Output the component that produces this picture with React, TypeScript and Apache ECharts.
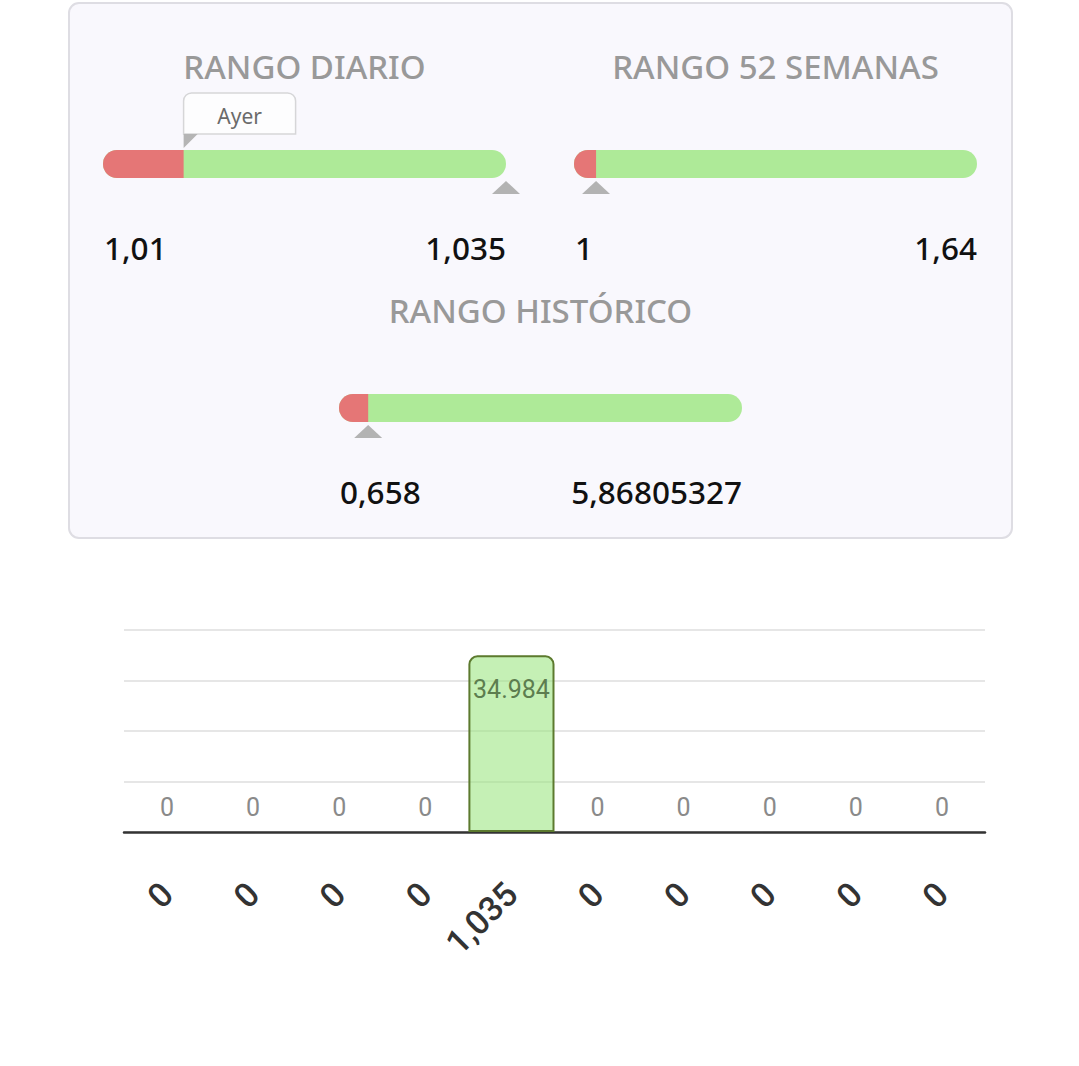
import React, { useEffect, useRef } from "react";
import * as echarts from "echarts";

// ---- data ----
const rangeTitles = ["RANGO DIARIO", "RANGO 52 SEMANAS", "RANGO HISTÓRICO"];
const rangeLow = [1.01, 1, 0.658];
const rangeHigh = [1.035, 1.64, 5.86805327];
const rangeSplit = [1.015, 1.035, 1.035]; // end of the red segment
const rangeMarker = [1.035, 1.035, 1.035]; // triangle marker
const calloutLabels = ["Ayer", "", ""];
const calloutValues = [1.015, null, null];

const histCategories = ["0", "0", "0", "0", "1,035", "0", "0", "0", "0", "0"];
const histValues = [0, 0, 0, 0, 34984, 0, 0, 0, 0, 0];

const fmtDec = (v: number) => String(v).replace(".", ",");
const fmtThousands = (v: number) =>
  String(v).replace(/\B(?=(\d{3})+(?!\d))/g, ".");

const CARD_FONT = "'Noto Sans', 'Open Sans', sans-serif";
const CHART_FONT = "Roboto, 'Noto Sans', sans-serif";

const rangeGrids = [
  { left: 103, top: 150, width: 403, height: 28 },
  { left: 574, top: 150, width: 403, height: 28 },
  { left: 339, top: 394, width: 403, height: 28 },
];

function makeRenderItem(i: number) {
  return (params: any, api: any) => {
    const cs = params.coordSys;
    const h = cs.height;
    const x0 = api.coord([api.value(0), 0])[0];
    const xs = api.coord([api.value(1), 0])[0];
    const x2 = api.coord([api.value(2), 0])[0];
    const xm = api.coord([api.value(3), 0])[0];
    const by = cs.y + h;
    const children: any[] = [
      {
        type: "text",
        style: {
          text: rangeTitles[i],
          x: cs.x + cs.width / 2,
          y: cs.y - 84,
          align: "center",
          verticalAlign: "middle",
          fill: "#999999",
          fontSize: 33,
          fontWeight: 500,
          fontFamily: CARD_FONT,
        },
      },
      {
        type: "rect",
        shape: { x: x0, y: cs.y, width: x2 - x0, height: h, r: h / 2 },
        style: { fill: "#aeea98" },
      },
      {
        type: "rect",
        shape: { x: x0, y: cs.y, width: xs - x0, height: h, r: [h / 2, 0, 0, h / 2] },
        style: { fill: "#e57676" },
      },
      {
        type: "polygon",
        shape: {
          points: [
            [xm - 14, by + 16],
            [xm + 14, by + 16],
            [xm, by + 3],
          ],
        },
        style: { fill: "#b3b3b3" },
      },
      {
        type: "text",
        style: {
          text: fmtDec(api.value(0)),
          x: x0 + 1,
          y: by + 69,
          align: "left",
          verticalAlign: "middle",
          fill: "#111111",
          fontSize: 31.5,
          fontWeight: 500,
          fontFamily: CARD_FONT,
        },
      },
      {
        type: "text",
        style: {
          text: fmtDec(api.value(2)),
          x: x2,
          y: by + 69,
          align: "right",
          verticalAlign: "middle",
          fill: "#111111",
          fontSize: 31.5,
          fontWeight: 500,
          fontFamily: CARD_FONT,
        },
      },
    ];
    const cv = calloutValues[i];
    if (cv != null && calloutLabels[i]) {
      const xc = api.coord([cv, 0])[0];
      children.push(
        {
          type: "rect",
          shape: { x: xc, y: cs.y - 57, width: 112, height: 41, r: [8, 8, 0, 0] },
          style: { fill: "#fdfdfe", stroke: "#d6d6d8", lineWidth: 1.5 },
        },
        {
          type: "polygon",
          shape: {
            points: [
              [xc, cs.y - 16],
              [xc + 14, cs.y - 16],
              [xc, cs.y - 2],
            ],
          },
          style: { fill: "#b5b5b5" },
        },
        {
          type: "text",
          style: {
            text: calloutLabels[i],
            x: xc + 56,
            y: cs.y - 34,
            align: "center",
            verticalAlign: "middle",
            fill: "#6a6a6a",
            fontSize: 21,
            fontFamily: CARD_FONT,
          },
        }
      );
    }
    return { type: "group", children };
  };
}

export default function App() {
  const ref = useRef<HTMLDivElement>(null);
  useEffect(() => {
    if (!ref.current) return;
    const chart = echarts.init(ref.current, null, { renderer: "svg" });
    const grids: any[] = rangeGrids.map((g) => ({ ...g, containLabel: false }));
    grids.push({ left: 124, right: 94, top: 630, height: 202, containLabel: false });

    const xAxes: any[] = rangeLow.map((lo, i) => ({
      type: "value",
      gridIndex: i,
      min: lo,
      max: rangeHigh[i],
      show: false,
    }));
    xAxes.push({
      type: "category",
      gridIndex: 3,
      data: histCategories,
      axisLine: { lineStyle: { color: "#333333", width: 2.5 } },
      axisTick: { show: false },
      axisLabel: {
        interval: 0,
        rotate: 45,
        margin: 56,
        fontSize: 34,
        fontWeight: 500,
        color: "#333333",
        fontFamily: CHART_FONT,
      },
    });
    const yAxes: any[] = rangeLow.map((_, i) => ({
      type: "value",
      gridIndex: i,
      min: 0,
      max: 1,
      show: false,
    }));
    yAxes.push({
      type: "value",
      gridIndex: 3,
      min: 0,
      max: 40000,
      interval: 10000,
      axisLine: { show: false },
      axisTick: { show: false },
      axisLabel: { show: false },
      splitLine: { lineStyle: { color: "#e6e6e6", width: 2 } },
    });

    const series: any[] = rangeLow.map((lo, i) => ({
      type: "custom",
      xAxisIndex: i,
      yAxisIndex: i,
      clip: false,
      encode: { x: [0, 1, 2, 3] },
      data: [[lo, rangeSplit[i], rangeHigh[i], rangeMarker[i]]],
      renderItem: makeRenderItem(i),
    }));
    series.push({
      type: "bar",
      xAxisIndex: 3,
      yAxisIndex: 3,
      barCategoryGap: "0%",
      itemStyle: {
        color: "rgba(150,228,120,0.55)",
        borderColor: "#5c7a2e",
        borderWidth: 2,
        borderRadius: [8, 8, 0, 0],
      },
      label: {
        show: true,
        position: "top",
        distance: 12,
        color: "#8a8a8a",
        fontSize: 25,
        fontFamily: CHART_FONT,
        formatter: (p: any) => fmtThousands(p.value),
      },
      data: histValues.map((v) =>
        v === 0
          ? { value: v, itemStyle: { borderWidth: 0 } }
          : {
              value: v,
              label: { position: "insideTop", distance: 22, color: "#5d7d4f" },
            }
      ),
    });

    chart.setOption({
      animation: false,
      backgroundColor: "#ffffff",
      graphic: [
        {
          type: "rect",
          z: -10,
          silent: true,
          shape: { x: 69, y: 3, width: 943, height: 535, r: 10 },
          style: { fill: "#f9f8fd", stroke: "#dedde3", lineWidth: 2 },
        },
      ],
      grid: grids,
      xAxis: xAxes,
      yAxis: yAxes,
      series,
    });
    return () => chart.dispose();
  }, []);
  return (
    <div
      ref={ref}
      style={{ position: "fixed", left: 0, top: 0, width: 1079, height: 1066 }}
    />
  );
}
